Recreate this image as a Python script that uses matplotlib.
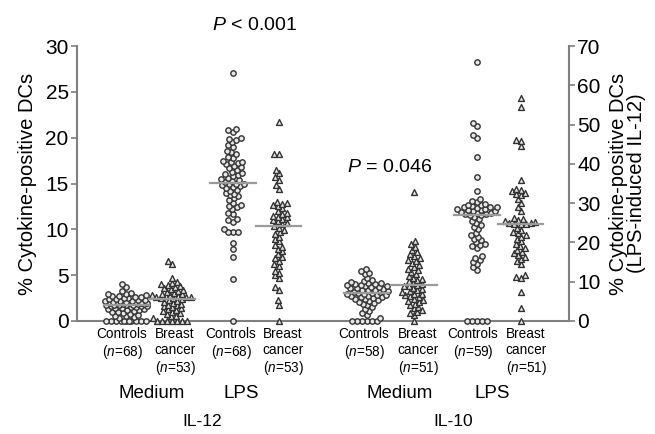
import numpy as np
import matplotlib
matplotlib.use("Agg")
import matplotlib.pyplot as plt

plt.rcParams['font.family'] = ['Liberation Sans', 'DejaVu Sans']
plt.rcParams['mathtext.fontset'] = 'custom'
plt.rcParams['mathtext.rm'] = 'Liberation Sans'
plt.rcParams['mathtext.it'] = 'Liberation Sans:italic'

# IL-12 values (left axis, %)
il12_med_ctrl = [0, 0, 0, 0, 0, 0, 0, 0, 0, 0, 0,
                 0.3, 0.4, 0.5, 0.6, 0.7, 0.8, 0.9, 1.0, 1.0, 1.1, 1.2, 1.2, 1.3, 1.3,
                 1.4, 1.4, 1.5, 1.5, 1.6, 1.6, 1.6, 1.7, 1.7,
                 1.8, 1.8, 1.8, 1.9, 1.9, 1.9, 2.0, 2.0, 2.0, 2.0, 2.0, 2.1, 2.1, 2.1,
                 2.2, 2.2, 2.2, 2.3, 2.3, 2.4, 2.4, 2.5, 2.5, 2.6, 2.6, 2.7, 2.7, 2.8,
                 2.9, 3.0, 3.1, 3.3, 3.7, 4.0]
il12_med_bc = [0, 0, 0, 0, 0, 0, 0,
               0.3, 0.5, 0.6, 0.8, 0.9, 1.0, 1.1, 1.2, 1.3, 1.4, 1.5, 1.6, 1.7, 1.8,
               1.9, 2.0, 2.1, 2.2, 2.3, 2.4,
               2.5, 2.5, 2.6, 2.6, 2.6, 2.7, 2.7, 2.8, 2.8, 2.9, 3.0, 3.1, 3.2, 3.3,
               3.4, 3.5, 3.6, 3.7, 3.8, 3.9, 4.0, 4.1, 4.3, 4.7, 6.2, 6.5]
il12_lps_ctrl = [0, 4.6, 7.0, 7.9, 8.5, 9.7, 9.7, 9.7, 10.0, 10.8, 11.1, 11.0, 11.7,
                 11.8, 12.2, 12.4, 12.6, 12.7, 12.9, 13.2, 13.4, 13.6, 13.7, 13.9,
                 14.0, 14.2, 14.3, 14.5, 14.6, 14.7, 14.8, 14.9, 15.0, 15.0,
                 15.2, 15.3, 15.4, 15.5, 15.6, 15.8, 15.9, 16.0, 16.1, 16.3, 16.5,
                 16.7, 16.8, 16.9, 17.1, 17.2, 17.3, 17.4, 17.5, 17.8, 17.9, 18.2,
                 18.4, 18.6, 19.0, 19.2, 19.5, 19.8, 19.9, 20.0, 20.6, 20.8, 21.0, 27.1]
il12_lps_bc = [0, 1.8, 2.3, 3.4, 3.7, 4.7, 5.0, 5.2, 5.5, 6.0, 6.2, 6.6, 6.9, 7.0,
               7.3, 7.6, 7.9, 8.1, 8.3, 8.7, 9.0, 9.2, 9.5, 9.7, 9.9, 10.2, 10.4,
               10.6, 10.7, 10.9, 11.0, 11.1, 11.3, 11.4, 11.5, 11.7, 11.8, 12.0,
               12.3, 12.5, 12.7, 12.8, 12.9, 13.0, 14.4, 14.8, 15.4, 15.7, 16.1,
               16.5, 18.2, 18.2, 21.7]

# IL-10 values (right axis, %)
il10_med_ctrl = [0, 0, 0, 0, 0, 0, 0.8, 1.5, 2.0, 2.5, 3.0, 3.5, 4.0, 4.3, 4.6, 4.9,
                 5.1, 5.3, 5.5, 5.7, 5.9, 6.0, 6.2, 6.3, 6.4, 6.5, 6.6, 6.8,
                 7.0, 7.1, 7.2, 7.4, 7.5, 7.6, 7.8, 7.9, 8.0, 8.2, 8.3, 8.4, 8.6,
                 8.7, 8.8, 9.0, 9.1, 9.2, 9.4, 9.5, 9.7, 9.8, 10.0, 10.2, 10.5,
                 11.0, 12.0, 12.3, 12.7, 13.2]
il10_med_bc = [0, 1.5, 2.0, 2.4, 2.8, 3.2, 3.6, 4.0, 4.4, 4.8, 5.1, 5.4, 5.7, 6.0,
               6.3, 6.5, 6.8, 7.0, 7.3, 7.6, 7.9, 8.2, 8.5, 8.8, 9.0, 9.2,
               9.5, 9.8, 10.1, 10.4, 10.7, 11.0, 11.5, 12.0, 12.5, 13.0, 13.3,
               13.8, 14.3, 14.8, 15.3, 15.6, 16.0, 16.5, 17.0, 17.5, 18.0, 18.9,
               19.5, 20.3, 32.8]
il10_lps_ctrl = [0, 0, 0, 0, 0, 13.0, 13.8, 14.5, 15.0, 15.5, 16.0, 16.5, 18.5,
                 19.0, 19.3, 19.6, 20.0, 20.5, 21.0, 21.5, 22.0, 22.5, 23.5, 24.0,
                 24.5, 25.0, 25.5, 26.0, 26.5, 27.0,
                 27.1, 27.2, 27.3, 27.5, 27.6, 27.8, 28.0, 28.1, 28.2, 28.3, 28.5,
                 28.6, 28.8, 28.9, 29.0, 29.1, 29.3, 29.5, 29.6, 29.8, 30.2,
                 30.6, 31.0, 33.1, 36.7, 41.8, 46.6, 47.3, 49.6, 50.3, 66.0]
il10_lps_bc = [0, 3.2, 7.3, 11.0, 11.3, 11.6, 14.5, 15.2, 15.8, 16.3, 16.8, 17.2,
               17.6, 18.0, 18.5, 19.0, 19.6, 20.3, 21.0, 21.5, 22.0, 22.3, 22.7,
               23.2, 23.8, 24.6,
               24.7, 24.8, 24.9, 25.0, 25.2, 25.4, 25.6, 26.0, 26.2, 28.0, 29.0,
               30.0, 31.0, 32.0, 32.3, 32.6, 33.0, 33.3, 33.6, 35.9, 44.6, 45.8,
               46.1, 54.5, 56.7]

group_x = [1.0, 1.93, 3.17, 4.1, 5.89, 6.85, 8.13, 9.02]
group_labels = ['Controls\n($\\it{n}$=68)', 'Breast\ncancer\n($\\it{n}$=53)',
                'Controls\n($\\it{n}$=68)', 'Breast\ncancer\n($\\it{n}$=53)',
                'Controls\n($\\it{n}$=58)', 'Breast\ncancer\n($\\it{n}$=51)',
                'Controls\n($\\it{n}$=59)', 'Breast\ncancer\n($\\it{n}$=51)']
label_px = [122, 175, 231, 283, 364, 418, 473, 526]

W, H = 655, 434
PX_X = 49.2          # pixels per x unit
PX_Y_LEFT = 275 / 30
PX_Y_RIGHT = 275 / 70


def swarm(vals, pxy, d=4.6, maxw=21.0):
    # beeswarm kept inside +-maxw px; when full, take the least crowded slot
    vals = np.asarray(vals, float)
    ys = vals * pxy
    xs = np.zeros(len(vals))
    cand = np.arange(-maxw, maxw + 0.01, 0.5)
    cand = cand[np.argsort(np.abs(cand), kind='stable')]
    done = []
    for i in np.argsort(vals, kind='stable'):
        if done:
            px = xs[done]
            py = ys[done]
            dist = np.sqrt((cand[:, None] - px[None, :]) ** 2 +
                           (ys[i] - py[None, :]) ** 2).min(axis=1)
            free = np.where(dist >= d)[0]
            xs[i] = cand[free[0]] if len(free) else cand[np.argmax(dist)]
        done.append(i)
    return xs / PX_X


fig = plt.figure(figsize=(W / 100, H / 100), dpi=100)
ax = fig.add_axes([77 / W, 1 - 321 / H, 492 / W, 275 / H])
ax2 = ax.twinx()

groups = [(ax, il12_med_ctrl, 'o'), (ax, il12_med_bc, '^'),
          (ax, il12_lps_ctrl, 'o'), (ax, il12_lps_bc, '^'),
          (ax2, il10_med_ctrl, 'o'), (ax2, il10_med_bc, '^'),
          (ax2, il10_lps_ctrl, 'o'), (ax2, il10_lps_bc, '^')]

for (a, vals, m), gx in zip(groups, group_x):
    pxy = PX_Y_LEFT if a is ax else PX_Y_RIGHT
    xs = swarm(vals, pxy) + gx
    a.scatter(xs, vals, marker=m, s=15 if m == 'o' else 18, facecolor='#e6e6e6',
              edgecolor='#333333', linewidth=1.0, zorder=3, clip_on=False)
    med = np.median(vals)
    a.plot([gx - 0.46, gx + 0.46], [med, med], color='#9a9a9a', lw=1.6, zorder=4)

ax.set_xlim(0, 10)
ax.set_ylim(0, 30)
ax2.set_ylim(0, 70)
ax.set_yticks([0, 5, 10, 15, 20, 25, 30])
ax2.set_yticks([0, 10, 20, 30, 40, 50, 60, 70])
ax.set_xticks([])

for a in (ax, ax2):
    a.spines['top'].set_visible(False)
    for s in ('left', 'right', 'bottom'):
        a.spines[s].set_color('#808080')
        a.spines[s].set_linewidth(1.5)
    a.tick_params(axis='y', length=4, width=1.2, color='#808080',
                  labelsize=15, pad=2)
ax.spines['right'].set_visible(False)
ax2.spines['left'].set_visible(False)
ax2.spines['bottom'].set_visible(False)

ax.set_ylabel('% Cytokine-positive DCs', fontsize=14.5, labelpad=6)
ax2.set_ylabel('% Cytokine-positive DCs\n(LPS-induced IL-12)', fontsize=14.5,
               labelpad=6, linespacing=0.95)

for txt, xp in zip(group_labels, label_px):
    fig.text(xp / W, 1 - 327 / H, txt, ha='center', va='top', fontsize=9.8,
             linespacing=1.15)

for txt, xp in [('Medium', 152), ('LPS', 241), ('Medium', 400), ('LPS', 492)]:
    fig.text(xp / W, 1 - 393 / H, txt, ha='center', va='center', fontsize=13.5)
for txt, xp in [('IL-12', 202), ('IL-10', 453)]:
    fig.text(xp / W, 1 - 422 / H, txt, ha='center', va='center', fontsize=12.5)

fig.text(255 / W, 1 - 25 / H, '$\\it{P}$ < 0.001', ha='center', va='center',
         fontsize=14)
fig.text(390 / W, 1 - 168 / H, '$\\it{P}$ = 0.046', ha='center', va='center',
         fontsize=14)

fig.savefig('out.png', dpi=100)
